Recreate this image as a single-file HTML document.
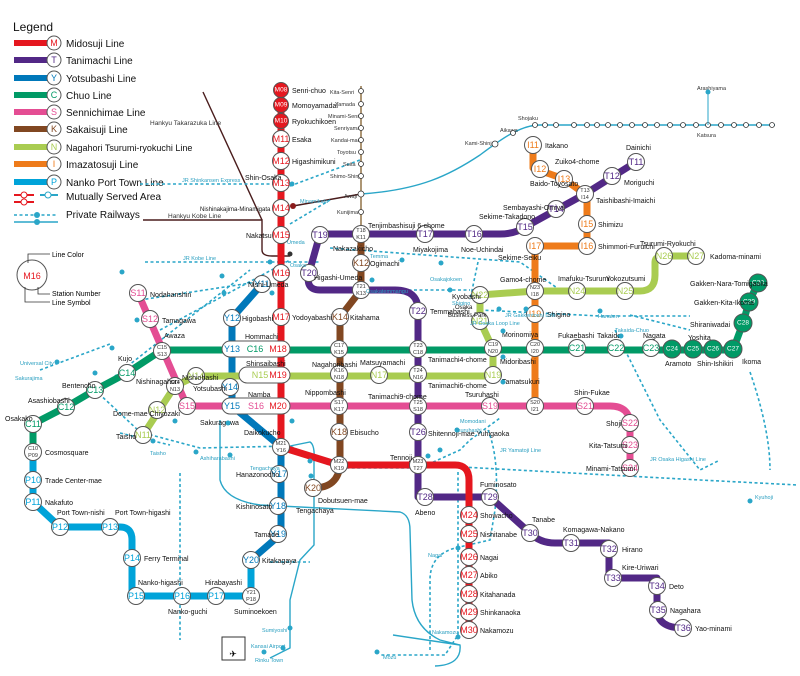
<!DOCTYPE html>
<html><head><meta charset="utf-8"><style>
html,body{margin:0;padding:0;background:#fff}
svg{display:block}
text{font-family:"Liberation Sans",sans-serif}
.l{fill:none;stroke-linecap:round;stroke-linejoin:round;stroke-width:7}
.st circle,.st rect{fill:#fff;stroke:#555;stroke-width:1}
.n{font-size:7px;fill:#111}
.c{font-size:9px;text-anchor:middle;dominant-baseline:central}
.p{fill:none;stroke:#2aa6c8;stroke-width:1.6;stroke-dasharray:3 2.5}
.pl{fill:none;stroke:#2aa6c8;stroke-width:1.4}
.sm{font-size:5.5px;fill:#2a9fc0}
.dot{fill:#2aa6c8}
</style></head><body>
<svg width="800" height="676" viewBox="0 0 800 676" xmlns="http://www.w3.org/2000/svg">
<text x="13" y="31" font-size="12" fill="#111">Legend</text>
<g stroke-width="6">
<line x1="14" y1="43" x2="48" y2="43" stroke="#e5171f"/>
<line x1="14" y1="60" x2="48" y2="60" stroke="#522886"/>
<line x1="14" y1="78" x2="48" y2="78" stroke="#0078ba"/>
<line x1="14" y1="95" x2="48" y2="95" stroke="#019a66"/>
<line x1="14" y1="112" x2="48" y2="112" stroke="#e44d93"/>
<line x1="14" y1="129" x2="48" y2="129" stroke="#814721"/>
<line x1="14" y1="147" x2="48" y2="147" stroke="#a9cc51"/>
<line x1="14" y1="164" x2="48" y2="164" stroke="#ee7b1a"/>
<line x1="14" y1="182" x2="48" y2="182" stroke="#00a3d9"/>
</g>
<g class="st">
<circle cx="54" cy="43" r="7"/><circle cx="54" cy="60" r="7"/><circle cx="54" cy="78" r="7"/><circle cx="54" cy="95" r="7"/><circle cx="54" cy="112" r="7"/><circle cx="54" cy="129" r="7"/><circle cx="54" cy="147" r="7"/><circle cx="54" cy="164" r="7"/><circle cx="54" cy="182" r="7"/>
</g>
<g class="c" font-size="8">
<text x="54" y="43" fill="#e5171f">M</text><text x="54" y="60" fill="#522886">T</text><text x="54" y="78" fill="#0078ba">Y</text><text x="54" y="95" fill="#019a66">C</text><text x="54" y="112" fill="#e44d93">S</text><text x="54" y="129" fill="#814721">K</text><text x="54" y="147" fill="#a9cc51">N</text><text x="54" y="164" fill="#ee7b1a">I</text><text x="54" y="182" fill="#00a3d9">P</text>
</g>
<g font-size="10" fill="#111">
<text x="66" y="47">Midosuji Line</text><text x="66" y="64">Tanimachi Line</text><text x="66" y="82">Yotsubashi Line</text><text x="66" y="99">Chuo Line</text><text x="66" y="116">Sennichimae Line</text><text x="66" y="133">Sakaisuji Line</text><text x="66" y="151" font-size="9">Nagahori Tsurumi-ryokuchi Line</text><text x="66" y="168">Imazatosuji Line</text><text x="66" y="186">Nanko Port Town Line</text><text x="66" y="200">Mutually Served Area</text><text x="66" y="218">Private Railways</text>
</g>
<g stroke-width="2"><line x1="14" y1="195" x2="34" y2="195" stroke="#e5171f"/><line x1="14" y1="202" x2="34" y2="202" stroke="#e5171f"/><line x1="40" y1="195" x2="58" y2="195" stroke="#2aa6c8"/></g>
<circle cx="24" cy="195" r="3" fill="#fff" stroke="#e5171f"/><circle cx="24" cy="202" r="3" fill="#fff" stroke="#e5171f"/><circle cx="48" cy="195" r="3" fill="#fff" stroke="#2aa6c8"/>
<line x1="14" y1="215" x2="58" y2="215" class="p"/><line x1="14" y1="222" x2="58" y2="222" class="pl"/><circle cx="37" cy="215" r="3" class="dot"/><circle cx="37" cy="222" r="3" class="dot"/>
<circle cx="32" cy="275" r="15" fill="#fff" stroke="#555"/><text x="32" y="276" class="c" font-size="15" fill="#e5171f">M16</text>
<path d="M28 263 V254 H50 M25 287 V302 H50 M38 287 V294 H50" fill="none" stroke="#333" stroke-width="0.8"/>
<text x="52" y="257" font-size="7" font-family="Liberation Mono">Line Color</text><text x="52" y="296" font-size="7" font-family="Liberation Mono">Station Number</text><text x="52" y="305" font-size="7" font-family="Liberation Mono">Line Symbol</text>

<g class="pl" stroke="#6b4424" stroke-width="1.6">
<path d="M361 86 V234" stroke="#8a6a3a"/>
<path d="M361 194 C420 190 450 175 480 155 C500 140 520 125 540 125 H775"/>
<path d="M203 92 L262 220 M143 220 H262 V250 Q262 256 272 256 H290 M293 206 L361 194" stroke="#4a1d1d"/>
</g>
<g class="p">
<path d="M140 184 H278 M145 262 H320 M290 186 L360 160 M290 224 L330 200 M140 300 L270 280 M160 330 L290 260 M330 248 L520 262 L560 290 M315 290 L470 290 M478 262 L470 300 M480 310 L600 316 L690 316 M110 380 L250 270 M95 390 L140 432 L200 448 L290 446 L335 468 L420 468 L460 450 L470 440 L500 418 M425 465 L700 480 L798 485 M615 330 L660 420 L700 470 L720 460 M630 315 L690 330 M750 372 Q770 430 770 470 M180 473 V640 M458 472 V635 L445 655 L380 655 M488 430 Q500 460 495 510 L490 540 L455 548 Q430 555 430 580 V650 M120 433 L170 445 M40 370 L110 344 M270 562 H310"/>
</g>
<path class="pl" d="M220 420 V480 Q225 500 260 505 L400 512 Q410 515 410 530 L412 600 Q415 628 440 640 L460 645 Q462 665 435 666 M290 446 L310 442 Q315 445 314 460 L314 545 L300 560 L290 600 L290 648 L270 658 M393 635 L460 645"/>
<rect x="222" y="637" width="23" height="23" fill="#fff" stroke="#333"/><text x="233" y="654" class="c" font-size="16" dominant-baseline="auto">✈</text>
<text x="251" y="648" class="sm" font-size="7">Kansai Airport</text>

<path class="l" stroke="#ee7b1a" d="M533 145 V168 L564 179 L585 194 H587 V246 H535 V406"/>
<path class="l" stroke="#814721" d="M361 234 V290 L340 317 V465 Q338 488 313 488"/>
<path class="l" stroke="#019a66" d="M162 350 H651 H733 L743 323 L749 302 L758 283 M162 350 L127 373 L95 390 L66 407 L33 424 V452"/>
<path class="l" stroke="#00a3d9" d="M33 452 V502 L60 527 H120 Q132 527 132 540 V596 H251 V560"/>
<path class="l" stroke="#0078ba" d="M262 284 L232 318 V406 L281 447 V534 L251 560"/>
<path class="l" stroke="#a9cc51" d="M143 435 L175 386 L196 376 H493 V349 L480 321 V295 L535 291 H640 Q655 291 655 275 V262 Q655 256 665 256 H696"/>
<path class="l" stroke="#e44d93" d="M138 293 L187 406 H610 Q630 406 630 425 V468"/>
<path class="l" stroke="#522886" d="M636 162 L585 194 L525 227 Q515 234 500 234 H320 L309 273 Q305 290 320 290 H395 Q418 290 418 310 V497 H490 L530 533 Q540 543 555 543 H609 V578 H657 V610 Q658 628 683 628"/>
<path class="l" stroke="#e5171f" d="M281 90 V447 L339 465 H455 Q469 465 469 480 V630"/>

<g class="st">
<circle cx="281" cy="90" r="7.5" style="fill:#e5171f"/><circle cx="281" cy="105" r="7.5" style="fill:#e5171f"/><circle cx="281" cy="121" r="7.5" style="fill:#e5171f"/>
<circle cx="281" cy="139" r="8.5"/><circle cx="281" cy="161" r="8.5"/><circle cx="281" cy="183" r="8.5"/><circle cx="281" cy="208" r="8.5"/><circle cx="281" cy="235" r="8.5"/><circle cx="281" cy="273" r="8.5"/><circle cx="281" cy="317" r="8.5"/><circle cx="281" cy="447" r="8.5"/><circle cx="339" cy="465" r="8.5"/><circle cx="418" cy="465" r="8.5"/>
<circle cx="469" cy="515" r="8.5"/><circle cx="469" cy="534" r="8.5"/><circle cx="469" cy="557" r="8.5"/><circle cx="469" cy="575" r="8.5"/><circle cx="469" cy="594" r="8.5"/><circle cx="469" cy="612" r="8.5"/><circle cx="469" cy="630" r="8.5"/>
<circle cx="636" cy="162" r="8.5"/><circle cx="612" cy="176" r="8.5"/><circle cx="585" cy="194" r="8.5"/><circle cx="556" cy="209" r="8.5"/><circle cx="525" cy="227" r="8.5"/><circle cx="474" cy="234" r="8.5"/><circle cx="425" cy="234" r="8.5"/><circle cx="361" cy="234" r="8.5"/><circle cx="320" cy="235" r="8.5"/><circle cx="309" cy="273" r="8.5"/><circle cx="361" cy="290" r="8.5"/><circle cx="418" cy="311" r="8.5"/><circle cx="418" cy="349" r="8.5"/><circle cx="418" cy="374" r="8.5"/><circle cx="418" cy="406" r="8.5"/><circle cx="418" cy="432" r="8.5"/><circle cx="425" cy="497" r="8.5"/><circle cx="490" cy="497" r="8.5"/><circle cx="530" cy="533" r="8.5"/><circle cx="571" cy="543" r="8.5"/><circle cx="609" cy="549" r="8.5"/><circle cx="613" cy="578" r="8.5"/><circle cx="657" cy="586" r="8.5"/><circle cx="658" cy="610" r="8.5"/><circle cx="683" cy="628" r="8.5"/>
<circle cx="262" cy="284" r="8.5"/><circle cx="232" cy="318" r="8.5"/><circle cx="230" cy="387" r="8.5"/><circle cx="279" cy="474" r="8.5"/><circle cx="278" cy="506" r="8.5"/><circle cx="278" cy="534" r="8.5"/><circle cx="251" cy="560" r="8.5"/><circle cx="251" cy="596" r="8.5"/>
<circle cx="162" cy="351" r="8.5"/><circle cx="127" cy="373" r="8.5"/><circle cx="95" cy="390" r="8.5"/><circle cx="66" cy="407" r="8.5"/><circle cx="33" cy="424" r="8.5"/><circle cx="33" cy="452" r="8.5"/><circle cx="339" cy="349" r="8.5"/><circle cx="493" cy="348" r="8.5"/><circle cx="535" cy="348" r="8.5"/><circle cx="577" cy="348" r="8.5"/><circle cx="616" cy="348" r="8.5"/><circle cx="651" cy="348" r="8.5"/>
<circle cx="672" cy="349" r="9" style="fill:#019a66"/><circle cx="693" cy="349" r="9" style="fill:#019a66"/><circle cx="713" cy="349" r="9" style="fill:#019a66"/><circle cx="733" cy="349" r="9" style="fill:#019a66"/><circle cx="743" cy="323" r="9" style="fill:#019a66"/><circle cx="749" cy="302" r="9" style="fill:#019a66"/><circle cx="758" cy="283" r="9" style="fill:#019a66"/>
<circle cx="33" cy="480" r="8.5"/><circle cx="33" cy="502" r="8.5"/><circle cx="60" cy="527" r="8.5"/><circle cx="110" cy="527" r="8.5"/><circle cx="132" cy="558" r="8.5"/><circle cx="136" cy="596" r="8.5"/><circle cx="182" cy="596" r="8.5"/><circle cx="216" cy="596" r="8.5"/>
<circle cx="138" cy="293" r="8.5"/><circle cx="150" cy="319" r="8.5"/><circle cx="175" cy="386" r="8.5"/><circle cx="187" cy="406" r="8.5"/><circle cx="339" cy="406" r="8.5"/><circle cx="490" cy="406" r="8.5"/><circle cx="535" cy="406" r="8.5"/><circle cx="585" cy="406" r="8.5"/><circle cx="630" cy="423" r="8.5"/><circle cx="630" cy="445" r="8.5"/><circle cx="630" cy="468" r="8.5"/>
<circle cx="361" cy="263" r="8.5"/><circle cx="340" cy="317" r="8.5"/><circle cx="339" cy="374" r="8.5"/><circle cx="339" cy="432" r="8.5"/><circle cx="313" cy="488" r="8.5"/>
<circle cx="143" cy="435" r="8.5"/><circle cx="157" cy="410" r="8.5"/><circle cx="196" cy="376" r="8.5"/><circle cx="379" cy="375" r="8.5"/><circle cx="493" cy="375" r="8.5"/><circle cx="480" cy="321" r="8.5"/><circle cx="480" cy="295" r="8.5"/><circle cx="535" cy="291" r="8.5"/><circle cx="577" cy="291" r="8.5"/><circle cx="625" cy="291" r="8.5"/><circle cx="664" cy="256" r="8.5"/><circle cx="696" cy="256" r="8.5"/>
<circle cx="533" cy="145" r="8.5"/><circle cx="540" cy="169" r="8.5"/><circle cx="564" cy="179" r="8.5"/><circle cx="587" cy="224" r="8.5"/><circle cx="587" cy="246" r="8.5"/><circle cx="535" cy="246" r="8.5"/><circle cx="535" cy="314" r="8.5"/>
<rect x="222" y="341" width="68" height="16" rx="8"/><rect x="239" y="367" width="51" height="16" rx="8"/><rect x="222" y="398" width="68" height="16" rx="8"/>
</g>
<g class="c" font-size="7.5">
<g fill="#fff" font-size="6.5"><text x="281" y="90">M08</text><text x="281" y="105">M09</text><text x="281" y="121">M10</text><text x="672" y="349">C24</text><text x="693" y="349">C25</text><text x="713" y="349">C26</text><text x="733" y="349">C27</text><text x="743" y="323">C28</text><text x="749" y="302">C29</text><text x="758" y="283">C30</text></g>
<g fill="#e5171f"><text x="281" y="139">M11</text><text x="281" y="161">M12</text><text x="281" y="183">M13</text><text x="281" y="208">M14</text><text x="281" y="235">M15</text><text x="281" y="273">M16</text><text x="281" y="317">M17</text><text x="278" y="349">M18</text><text x="278" y="375">M19</text><text x="278" y="406">M20</text><text x="469" y="515">M24</text><text x="469" y="534">M25</text><text x="469" y="557">M26</text><text x="469" y="575">M27</text><text x="469" y="594">M28</text><text x="469" y="612">M29</text><text x="469" y="630">M30</text></g>
<g fill="#522886"><text x="636" y="162">T11</text><text x="612" y="176">T12</text><text x="556" y="209">T14</text><text x="525" y="227">T15</text><text x="474" y="234">T16</text><text x="425" y="234">T17</text><text x="320" y="235">T19</text><text x="309" y="273">T20</text><text x="418" y="311">T22</text><text x="418" y="432">T26</text><text x="425" y="497">T28</text><text x="490" y="497">T29</text><text x="530" y="533">T30</text><text x="571" y="543">T31</text><text x="609" y="549">T32</text><text x="613" y="578">T33</text><text x="657" y="586">T34</text><text x="658" y="610">T35</text><text x="683" y="628">T36</text></g>
<g fill="#0078ba"><text x="262" y="284">Y11</text><text x="232" y="318">Y12</text><text x="232" y="349">Y13</text><text x="230" y="387">Y14</text><text x="232" y="406">Y15</text><text x="279" y="474">Y17</text><text x="278" y="506">Y18</text><text x="278" y="534">Y19</text><text x="251" y="560">Y20</text></g>
<g fill="#019a66"><text x="127" y="373">C14</text><text x="95" y="390">C13</text><text x="66" y="407">C12</text><text x="33" y="424">C11</text><text x="255" y="349">C16</text><text x="577" y="348">C21</text><text x="616" y="348">C22</text><text x="651" y="348">C23</text></g>
<g fill="#00a3d9"><text x="33" y="480">P10</text><text x="33" y="502">P11</text><text x="60" y="527">P12</text><text x="110" y="527">P13</text><text x="132" y="558">P14</text><text x="136" y="596">P15</text><text x="182" y="596">P16</text><text x="216" y="596">P17</text></g>
<g fill="#e44d93"><text x="138" y="293">S11</text><text x="150" y="319">S12</text><text x="187" y="406">S15</text><text x="256" y="406">S16</text><text x="490" y="406">S19</text><text x="585" y="406">S21</text><text x="630" y="423">S22</text><text x="630" y="445">S23</text><text x="630" y="468">S24</text></g>
<g fill="#814721"><text x="361" y="263">K12</text><text x="340" y="317">K14</text><text x="339" y="432">K18</text><text x="313" y="488">K20</text></g>
<g fill="#a9cc51"><text x="143" y="435">N11</text><text x="157" y="410">N12</text><text x="196" y="376">N14</text><text x="260" y="375">N15</text><text x="379" y="375">N17</text><text x="493" y="375">N19</text><text x="480" y="321">N21</text><text x="480" y="295">N22</text><text x="577" y="291">N24</text><text x="625" y="291">N25</text><text x="664" y="256">N26</text><text x="696" y="256">N27</text></g>
<g fill="#ee7b1a"><text x="533" y="145">I11</text><text x="540" y="169">I12</text><text x="564" y="179">I13</text><text x="587" y="224">I15</text><text x="587" y="246">I16</text><text x="535" y="246">I17</text><text x="535" y="314">I19</text></g>
<g font-size="5.5" fill="#333"><text x="281" y="444">M21</text><text x="281" y="451">Y16</text><text x="339" y="462">M22</text><text x="339" y="469">K19</text><text x="418" y="462">M23</text><text x="418" y="469">T27</text><text x="585" y="191">T13</text><text x="585" y="198">I14</text><text x="361" y="231">T18</text><text x="361" y="238">K11</text><text x="361" y="287">T21</text><text x="361" y="294">K13</text><text x="418" y="346">T23</text><text x="418" y="353">C18</text><text x="418" y="371">T24</text><text x="418" y="378">N16</text><text x="418" y="403">T25</text><text x="418" y="410">S18</text><text x="339" y="346">C17</text><text x="339" y="353">K15</text><text x="339" y="371">K16</text><text x="339" y="378">N18</text><text x="339" y="403">S17</text><text x="339" y="410">K17</text><text x="162" y="348">C15</text><text x="162" y="355">S13</text><text x="175" y="383">S14</text><text x="175" y="390">N13</text><text x="493" y="345">C19</text><text x="493" y="352">N20</text><text x="535" y="345">C20</text><text x="535" y="352">I20</text><text x="535" y="288">N23</text><text x="535" y="295">I18</text><text x="535" y="403">S20</text><text x="535" y="410">I21</text><text x="33" y="449">C10</text><text x="33" y="456">P09</text><text x="251" y="593">Y21</text><text x="251" y="600">P18</text></g>
</g>
<g class="n">
<text x="292" y="93">Senri-chuo</text><text x="292" y="108">Momoyamadai</text><text x="292" y="124">Ryokuchikoen</text><text x="292" y="142">Esaka</text><text x="292" y="164">Higashimikuni</text><text x="245" y="180">Shin-Osaka</text><text x="200" y="211" font-size="6">Nishinakajima-Minamigata</text><text x="246" y="238">Nakatsu</text><text x="292" y="320">Yodoyabashi</text><text x="245" y="339">Hommachi</text><text x="246" y="366">Shinsaibashi</text><text x="248" y="397">Namba</text><text x="244" y="435">Daikokucho</text><text x="236" y="477">Hanazonocho</text><text x="236" y="509">Kishinosato</text><text x="254" y="537">Tamade</text><text x="262" y="563">Kitakagaya</text><text x="234" y="614">Suminoekoen</text>
<text x="480" y="518">Showacho</text><text x="480" y="537">Nishitanabe</text><text x="480" y="560">Nagai</text><text x="480" y="578">Abiko</text><text x="480" y="597">Kitahanada</text><text x="480" y="615">Shinkanaoka</text><text x="480" y="633">Nakamozu</text>
<text x="626" y="150">Dainichi</text><text x="624" y="185">Moriguchi</text><text x="596" y="203">Taishibashi-Imaichi</text><text x="503" y="210">Sembayashi-Omiya</text><text x="479" y="219">Sekime-Takadono</text><text x="461" y="252">Noe-Uchindai</text><text x="413" y="252">Miyakojima</text><text x="368" y="228">Tenjimbashisuji 6-chome</text><text x="333" y="251">Nakazakicho</text><text x="314" y="280">Higashi-Umeda</text><text x="370" y="266">Ogimachi</text><text x="430" y="314">Temmabashi</text><text x="428" y="362">Tanimachi4-chome</text><text x="428" y="388">Tanimachi6-chome</text><text x="368" y="399">Tanimachi9-chome</text><text x="428" y="436">Shitennoji-mae Yuhigaoka</text><text x="390" y="460">Tennoji</text><text x="415" y="515">Abeno</text><text x="480" y="487">Fuminosato</text><text x="532" y="522">Tanabe</text><text x="563" y="532">Komagawa-Nakano</text><text x="622" y="552">Hirano</text><text x="622" y="570">Kire-Uriwari</text><text x="669" y="589">Deto</text><text x="670" y="613">Nagahara</text><text x="695" y="631">Yao-minami</text>
<text x="248" y="287">Nishi-Umeda</text><text x="242" y="321">Higobashi</text><text x="193" y="391">Yotsubashi</text><text x="200" y="425">Sakuragawa</text><text x="150" y="297">Nodahanshin</text><text x="162" y="323">Tamagawa</text><text x="164" y="338">Awaza</text><text x="118" y="361">Kujo</text><text x="62" y="388">Bentencho</text><text x="28" y="403">Asashiobashi</text><text x="5" y="421">Osakako</text><text x="45" y="455">Cosmosquare</text><text x="45" y="483">Trade Center-mae</text><text x="45" y="505">Nakafuto</text><text x="57" y="515">Port Town-nishi</text><text x="115" y="515">Port Town-higashi</text><text x="144" y="561">Ferry Terminal</text><text x="138" y="585">Nanko-higashi</text><text x="168" y="614">Nanko-guchi</text><text x="205" y="585">Hirabayashi</text><text x="182" y="380">Nishiohashi</text><text x="136" y="384">Nishinagahori</text><text x="113" y="416">Dome-mae Chiyozaki</text><text x="116" y="439">Taisho</text>
<text x="350" y="320">Kitahama</text><text x="350" y="435">Ebisucho</text><text x="318" y="503">Dobutsuen-mae</text><text x="296" y="513">Tengachaya</text><text x="305" y="395">Nippombashi</text><text x="312" y="367">Nagahoribashi</text><text x="360" y="365">Matsuyamachi</text><text x="465" y="397">Tsuruhashi</text><text x="574" y="395">Shin-Fukae</text><text x="606" y="426">Shoji</text><text x="589" y="448">Kita-Tatsumi</text><text x="586" y="471">Minami-Tatsumi</text>
<text x="500" y="364">Midoribashi</text><text x="558" y="338">Fukaebashi</text><text x="597" y="338">Takaida</text><text x="643" y="338">Nagata</text><text x="665" y="366">Aramoto</text><text x="697" y="366">Shin-Ishikiri</text><text x="742" y="364">Ikoma</text><text x="688" y="340">Yoshita</text><text x="690" y="327">Shiraniwadai</text><text x="694" y="305">Gakken-Kita-Ikoma</text><text x="690" y="286">Gakken-Nara-Tomigaoka</text>
<text x="502" y="337">Morinomiya</text><text x="502" y="384">Tamatsukuri</text><text x="455" y="309" font-size="6">Osaka</text><text x="448" y="317" font-size="6">Business Park</text><text x="452" y="299">Kyobashi</text><text x="500" y="282">Gamo4-chome</text><text x="558" y="281">Imafuku-Tsurumi</text><text x="606" y="281">Yokozutsumi</text><text x="640" y="246">Tsurumi-Ryokuchi</text><text x="710" y="259">Kadoma-minami</text><text x="547" y="317">Shigino</text><text x="498" y="260">Sekime-Seiku</text><text x="598" y="249">Shimmori-Furuichi</text><text x="598" y="227">Shimizu</text><text x="530" y="186">Baido-Toyosato</text><text x="555" y="164">Zuiko4-chome</text><text x="545" y="148">Itakano</text>
</g>
<g font-size="5.5" fill="#333">
<text x="330" y="94">Kita-Senri</text><text x="335" y="106">Yamada</text><text x="328" y="118">Minami-Senri</text><text x="334" y="130">Senriyama</text><text x="331" y="142">Kandai-mae</text><text x="337" y="154">Toyotsu</text><text x="343" y="166">Suita</text><text x="330" y="178">Shimo-Shinjo</text><text x="344" y="198">Awaji</text><text x="337" y="214">Kunijima</text><text x="465" y="145">Kami-Shinjo</text><text x="500" y="132">Aikawa</text><text x="518" y="120">Shojaku</text><text x="697" y="137">Katsura</text><text x="697" y="90">Arashiyama</text><text x="150" y="125" font-size="6.5">Hankyu Takarazuka Line</text><text x="168" y="218" font-size="6.5">Hankyu Kobe Line</text>
</g>
<g fill="#333" stroke="#333"><g stroke-width="0.8" fill="#fff">
<circle cx="361" cy="91" r="2.5"/><circle cx="361" cy="104" r="2.5"/><circle cx="361" cy="116" r="2.5"/><circle cx="361" cy="128" r="2.5"/><circle cx="361" cy="140" r="2.5"/><circle cx="361" cy="152" r="2.5"/><circle cx="361" cy="164" r="2.5"/><circle cx="361" cy="176" r="2.5"/><circle cx="361" cy="194" r="3"/><circle cx="361" cy="212" r="2.5"/><circle cx="495" cy="144" r="3"/><circle cx="513" cy="133" r="2.5"/><circle cx="535" cy="125" r="2.5"/><circle cx="545" cy="125" r="2.5"/><circle cx="556" cy="125" r="2.5"/><circle cx="574" cy="125" r="2.5"/><circle cx="587" cy="125" r="2.5"/><circle cx="597" cy="125" r="2.5"/><circle cx="608" cy="125" r="2.5"/><circle cx="620" cy="125" r="2.5"/><circle cx="632" cy="125" r="2.5"/><circle cx="645" cy="125" r="2.5"/><circle cx="657" cy="125" r="2.5"/><circle cx="670" cy="125" r="2.5"/><circle cx="683" cy="125" r="2.5"/><circle cx="696" cy="125" r="2.5"/><circle cx="708" cy="125" r="2.5"/><circle cx="721" cy="125" r="2.5"/><circle cx="734" cy="125" r="2.5"/><circle cx="746" cy="125" r="2.5"/><circle cx="759" cy="125" r="2.5"/><circle cx="772" cy="125" r="2.5"/></g></g>
<line x1="708" y1="92" x2="708" y2="125" stroke="#2aa6c8"/><circle cx="708" cy="92" r="2.5" class="dot"/>
<g class="dot"><circle cx="292" cy="184" r="2.5"/><circle cx="293" cy="206" r="3" fill="#8b1a1a"/><circle cx="290" cy="254" r="2.5" fill="#333"/><circle cx="270" cy="262" r="2.5"/><circle cx="222" cy="276" r="2.5"/><circle cx="224" cy="293" r="2.5"/><circle cx="272" cy="293" r="2.5"/><circle cx="137" cy="320" r="2.5"/><circle cx="122" cy="272" r="2.5"/><circle cx="112" cy="348" r="2.5"/><circle cx="57" cy="362" r="2.5"/><circle cx="95" cy="373" r="2.5"/><circle cx="153" cy="441" r="2.5"/><circle cx="196" cy="452" r="2.5"/><circle cx="230" cy="455" r="2.5"/><circle cx="310" cy="461" r="2.5"/><circle cx="428" cy="456" r="2.5"/><circle cx="440" cy="450" r="2.5"/><circle cx="457" cy="430" r="2.5"/><circle cx="402" cy="260" r="2.5"/><circle cx="441" cy="263" r="2.5"/><circle cx="372" cy="280" r="2.5"/><circle cx="450" cy="290" r="2.5"/><circle cx="499" cy="309" r="2.5"/><circle cx="526" cy="309" r="2.5"/><circle cx="503" cy="331" r="2.5"/><circle cx="503" cy="357" r="2.5"/><circle cx="503" cy="382" r="2.5"/><circle cx="600" cy="311" r="2.5"/><circle cx="621" cy="336" r="2.5"/><circle cx="750" cy="501" r="2.5"/><circle cx="458" cy="548" r="2.5"/><circle cx="458" cy="637" r="2.5"/><circle cx="290" cy="628" r="2.5"/><circle cx="283" cy="648" r="2.5"/><circle cx="264" cy="652" r="2.5"/><circle cx="377" cy="652" r="2.5"/><circle cx="311" cy="476" r="2.5"/><circle cx="292" cy="421" r="2.5"/><circle cx="228" cy="423" r="2.5"/><circle cx="175" cy="421" r="2.5"/></g>
<g class="sm"><text x="300" y="203">Minamikata</text><text x="182" y="182">JR Shinkansen Express</text><text x="183" y="260">JR Kobe Line</text><text x="287" y="244">Umeda</text><text x="290" y="267">Osaka</text><text x="370" y="258">Temma</text><text x="366" y="293">Osakatemmangu</text><text x="430" y="281">Osakajokoen</text><text x="470" y="325">JR Osaka Loop Line</text><text x="452" y="305">Shigino</text><text x="505" y="317">JR Gakkentoshi Line</text><text x="598" y="318">Hanaten</text><text x="615" y="332">Takaida-Chuo</text><text x="755" y="499">Kyuhoji</text><text x="650" y="461">JR Osaka Higashi Line</text><text x="500" y="452">JR Yamatoji Line</text><text x="455" y="432">Tsuruhashi</text><text x="460" y="423">Momodani</text><text x="250" y="470">Tengachaya</text><text x="200" y="460">Ashiharabashi</text><text x="20" y="365">Universal City</text><text x="15" y="380">Sakurajima</text><text x="150" y="455">Taisho</text><text x="262" y="632">Sumiyoshi</text><text x="255" y="662">Rinku Town</text><text x="383" y="659">Mozu</text><text x="432" y="634">Nakamozu</text><text x="428" y="557">Nagai</text></g>
</svg>
</body></html>
